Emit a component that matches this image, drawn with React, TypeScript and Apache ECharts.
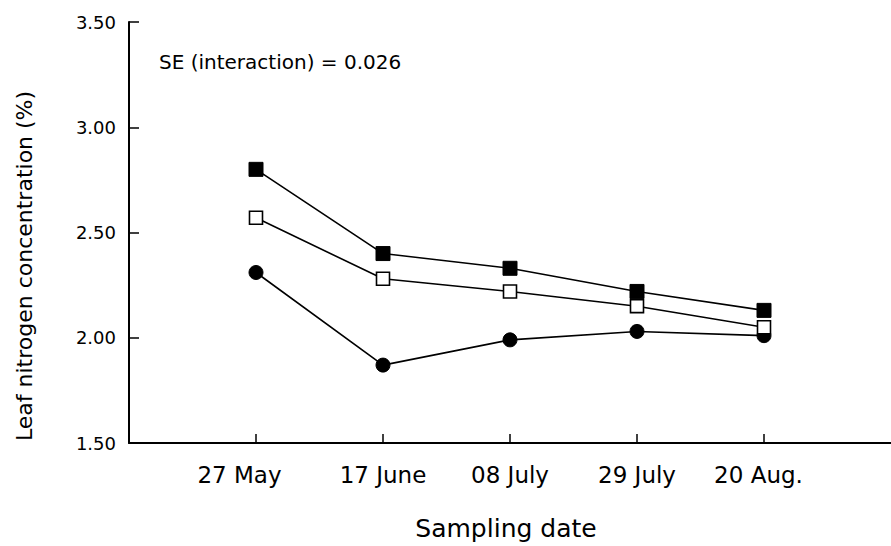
import React, { useEffect, useRef } from "react";
import * as echarts from "echarts";

const categories = ["27 May", "17 June", "08 July", "29 July", "20 Aug."];
const filledSquares = [2.8, 2.4, 2.33, 2.22, 2.13];
const openSquares = [2.57, 2.28, 2.22, 2.15, 2.05];
const filledCircles = [2.31, 1.87, 1.99, 2.03, 2.01];
const yTicks = [1.5, 2.0, 2.5, 3.0, 3.5];
const seText = "SE (interaction) = 0.026";
const yName = "Leaf nitrogen concentration (%)";
const xName = "Sampling date";

const FONT = "'DejaVu Sans', Verdana, sans-serif";

export default function App() {
  const ref = useRef<HTMLDivElement>(null);
  useEffect(() => {
    document.body.style.margin = "0";
    const chart = echarts.init(ref.current!, null, { renderer: "svg" });
    const toPts = (arr: number[]) => arr.map((v, i) => [i, v]);
    const lineStyle = { color: "#000", width: 1.6 };
    const lbl = { fontFamily: FONT, fontSize: 23, color: "#000" };
    chart.setOption({
      animation: false,
      backgroundColor: "#fff",
      grid: { left: 129, top: 22, width: 766, bottom: 102 },
      xAxis: {
        type: "value",
        min: -1,
        max: 5,
        interval: 1,
        name: xName,
        nameLocation: "middle",
        nameGap: 73,
        nameTextStyle: { fontFamily: FONT, fontSize: 25, color: "#000", padding: [0, 8, 0, 0] },
        axisLine: { onZero: false, lineStyle: { color: "#000", width: 2 } },
        axisTick: { inside: true, length: 9, lineStyle: { color: "#000", width: 1.5 }, customValues: [0, 1, 2, 3, 4] },
        axisLabel: {
          customValues: [0, 1, 2, 3, 4],
          margin: 20,
          ...lbl,
          formatter: (v: number) => {
            const i = Math.round(v);
            const name = categories[i] ?? "";
            if (i === 0) return "{a|" + name + "}";
            if (i === 4) return "{b|" + name + "}";
            return name;
          },
          rich: {
            a: { ...lbl, padding: [0, 33, 0, 0] },
            b: { ...lbl, padding: [0, 11, 0, 0] },
          },
        },
        splitLine: { show: false },
      },
      yAxis: {
        type: "value",
        min: 1.5,
        max: 3.5,
        interval: 0.5,
        axisLine: { onZero: false, lineStyle: { color: "#000", width: 2 } },
        axisTick: { inside: true, length: 10, lineStyle: { color: "#000", width: 1.5 } },
        axisLabel: {
          margin: 13,
          fontFamily: FONT,
          fontSize: 18,
          color: "#000",
          formatter: (v: number) => (yTicks.includes(v) ? v.toFixed(2) : ""),
        },
        splitLine: { show: false },
      },
      graphic: [
        {
          type: "text",
          x: 159,
          y: 62,
          style: { text: seText, fontFamily: FONT, fontSize: 20, fill: "#000", textVerticalAlign: "middle" },
        },
        {
          type: "text",
          x: 24,
          y: 266,
          rotation: Math.PI / 2,
          style: {
            text: yName,
            fontFamily: FONT,
            fontSize: 22,
            fill: "#000",
            textAlign: "center",
            textVerticalAlign: "middle",
          },
        },
      ],
      series: [
        {
          type: "line",
          data: toPts(filledCircles),
          symbol: "circle",
          symbolSize: 14,
          lineStyle,
          itemStyle: { color: "#000", borderColor: "#000" },
        },
        {
          type: "line",
          data: toPts(openSquares),
          symbol: "rect",
          symbolSize: 13,
          lineStyle,
          itemStyle: { color: "#fff", borderColor: "#000", borderWidth: 1.6 },
        },
        {
          type: "line",
          data: toPts(filledSquares),
          symbol: "rect",
          symbolSize: 14,
          lineStyle,
          itemStyle: { color: "#000", borderColor: "#000" },
        },
      ],
    });
    return () => chart.dispose();
  }, []);
  return <div ref={ref} style={{ width: 891, height: 546 }} />;
}
